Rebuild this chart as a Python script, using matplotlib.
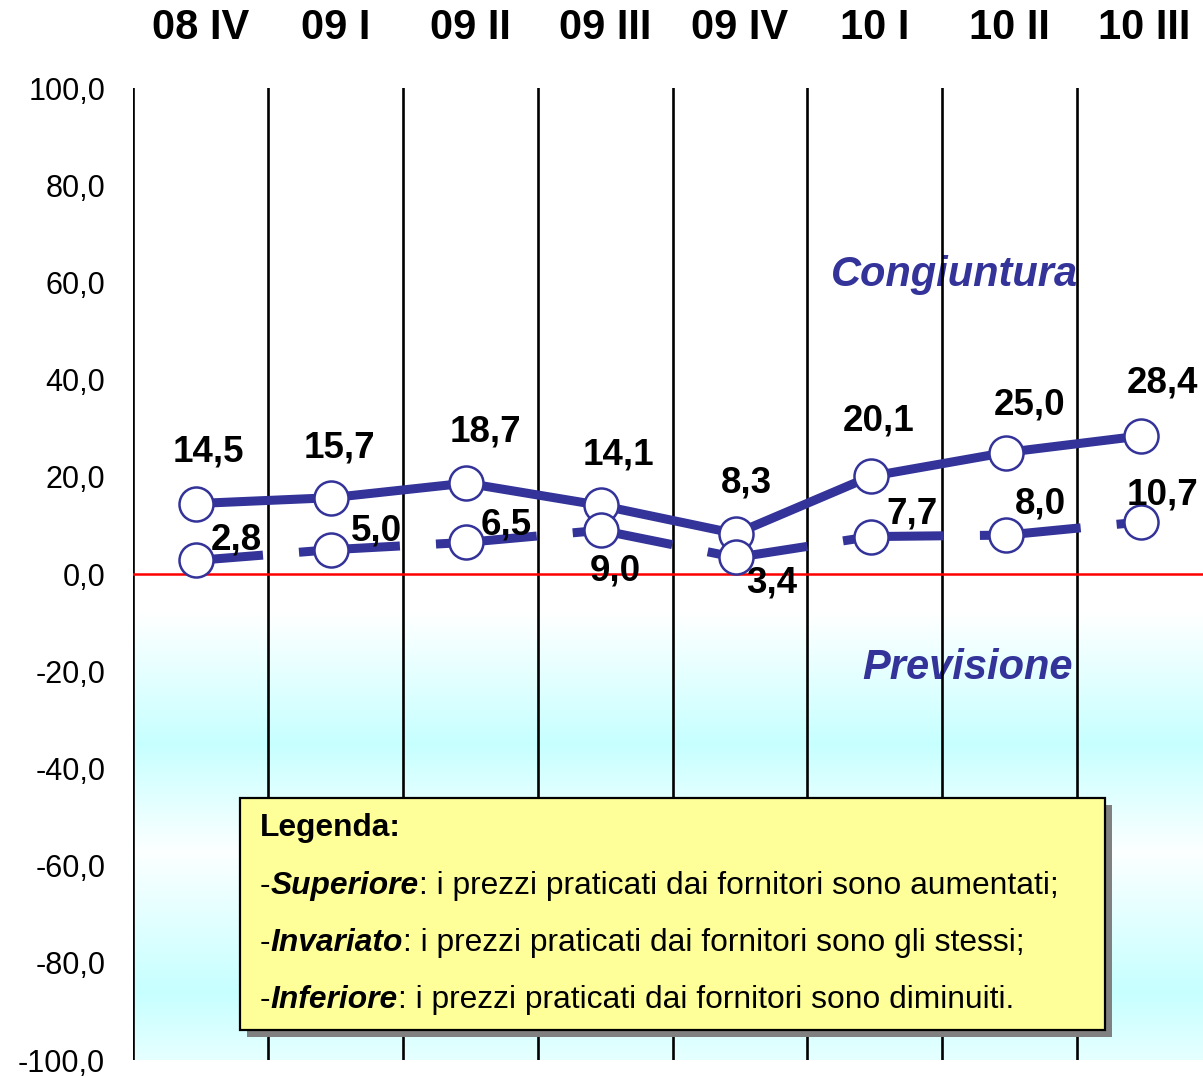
import numpy as np
import matplotlib
matplotlib.use("Agg")
import matplotlib.pyplot as plt
from matplotlib.patches import Rectangle

plt.rcParams['font.family'] = ['Liberation Sans', 'DejaVu Sans']

periods = ['08 IV', '09 I', '09 II', '09 III', '09 IV', '10 I', '10 II', '10 III']
congiuntura = [14.5, 15.7, 18.7, 14.1, 8.3, 20.1, 25.0, 28.4]
previsione = [2.8, 5.0, 6.5, 9.0, 3.4, 7.7, 8.0, 10.7]
yticks = [100, 80, 60, 40, 20, 0, -20, -40, -60, -80, -100]

BLUE = '#333399'
PX = 0.72  # pixel -> point at dpi 100

# label offsets in pixels (dx right, dy down)
cong_off = [(12, -52), (8, -50), (19, -51), (17, -50), (11, -51), (8, -55), (24, -48), (22, -53)]
prev_off = [(40, -20), (45, -19), (40, -17), (14, 41), (36, 26), (41, -23), (35, -31), (22, -27)]

W, H = 1203, 1077
fig = plt.figure(figsize=(W / 100, H / 100), dpi=100)
ax = fig.add_axes([133 / W, 1 - 1060 / H, (1212 - 133) / W, (1060 - 88) / H])

n = len(periods)
cat = np.arange(n)
x = cat - 0.03
ax.set_xlim(-0.5, n - 0.5)
ax.set_ylim(-100, 100)

# banded cyan gradient below zero
yy = np.linspace(0, -100, 400)
t = np.interp(-yy, [0, 8, 35, 57, 86, 100], [0, 0, 1, 0.05, 1, 0.45])
white = np.array([1.0, 1.0, 1.0])
cyan = np.array([0.78, 1.0, 1.0])
img = (white[None, :] * (1 - t[:, None]) + cyan[None, :] * t[:, None])[:, None, :]
ax.imshow(img, extent=(-0.5, n - 0.5, -100, 0), aspect='auto', zorder=0, interpolation='bilinear')

# category separators
for b in np.arange(-0.5, n - 0.5, 1.0):
    ax.axvline(b, color='black', lw=1.9, zorder=2)
ax.axhline(0, color='red', lw=1.8, zorder=2.5)

# series
ax.plot(x, congiuntura, color=BLUE, lw=6.5, solid_joinstyle='round', zorder=3)
ax.plot(x, previsione, color=BLUE, lw=6.5, linestyle=(3.8, (11.2, 4.0)), dash_capstyle='butt', zorder=3)
ax.plot(x, congiuntura, 'o', ms=24.5, mfc='white', mec=BLUE, mew=1.8, zorder=4)
ax.plot(x, previsione, 'o', ms=24.5, mfc='white', mec=BLUE, mew=1.8, zorder=4)

for i in range(n):
    dx, dy = cong_off[i]
    ax.annotate(f"{congiuntura[i]:.1f}".replace('.', ','), (x[i], congiuntura[i]),
                xytext=(dx * PX, -dy * PX), textcoords='offset points',
                ha='center', va='center', fontsize=26.5, fontweight='bold', zorder=5)
    dx, dy = prev_off[i]
    ax.annotate(f"{previsione[i]:.1f}".replace('.', ','), (x[i], previsione[i]),
                xytext=(dx * PX, -dy * PX), textcoords='offset points',
                ha='center', va='center', fontsize=26.5, fontweight='bold', zorder=5)

# period labels on top
for i, p in enumerate(periods):
    ax.annotate(p, (cat[i], 1), xycoords=('data', 'axes fraction'),
                xytext=(0, 60 * PX), textcoords='offset points',
                ha='center', va='center', fontsize=30, fontweight='bold', annotation_clip=False)

ax.text(955 / W, 1 - 275 / H, 'Congiuntura', transform=fig.transFigure, ha='center', va='center',
        fontsize=30, fontweight='bold', style='italic', color=BLUE, zorder=1)
ax.text(968 / W, 1 - 668 / H, 'Previsione', transform=fig.transFigure, ha='center', va='center',
        fontsize=30, fontweight='bold', style='italic', color=BLUE, zorder=1)

ax.set_yticks(yticks)
ax.set_yticklabels([f"{v:.1f}".replace('.', ',') for v in yticks], fontsize=22)
ax.tick_params(axis='y', length=0, pad=20)
ax.set_xticks([])
for s in ax.spines.values():
    s.set_visible(False)

# legend box
bx0, by0, bx1, by1 = 240, 798, 1105, 1030
ax.add_patch(Rectangle(((bx0 + 7) / W, 1 - (by1 + 7) / H), (bx1 - bx0) / W, (by1 - by0) / H,
                       transform=fig.transFigure, facecolor='#808080', edgecolor='none',
                       zorder=9, clip_on=False))
ax.add_patch(Rectangle((bx0 / W, 1 - by1 / H), (bx1 - bx0) / W, (by1 - by0) / H,
                       transform=fig.transFigure, facecolor='#FFFF99', edgecolor='black', lw=1.6,
                       zorder=10, clip_on=False))

FS = 22.9
ax.text(260 / W, 1 - 828 / H, 'Legenda:', transform=fig.transFigure, ha='left', va='center',
        fontsize=FS, fontweight='bold', zorder=11)
entries = [('Superiore', ': i prezzi praticati dai fornitori sono aumentati;'),
           ('Invariato', ': i prezzi praticati dai fornitori sono gli stessi;'),
           ('Inferiore', ': i prezzi praticati dai fornitori sono diminuiti.')]
for k, (key, desc) in enumerate(entries):
    ycen = [886, 943, 1000][k]
    t0 = ax.text(260 / W, 1 - ycen / H, '-', transform=fig.transFigure, ha='left', va='center',
                 fontsize=FS, zorder=11)
    t1 = ax.annotate(key, xy=(1, 0), xycoords=t0, ha='left', va='bottom',
                     fontsize=FS, fontweight='bold', style='italic', zorder=11)
    ax.annotate(desc, xy=(1, 0), xycoords=t1, ha='left', va='bottom', fontsize=FS, zorder=11)

fig.savefig('out.png', dpi=100)
